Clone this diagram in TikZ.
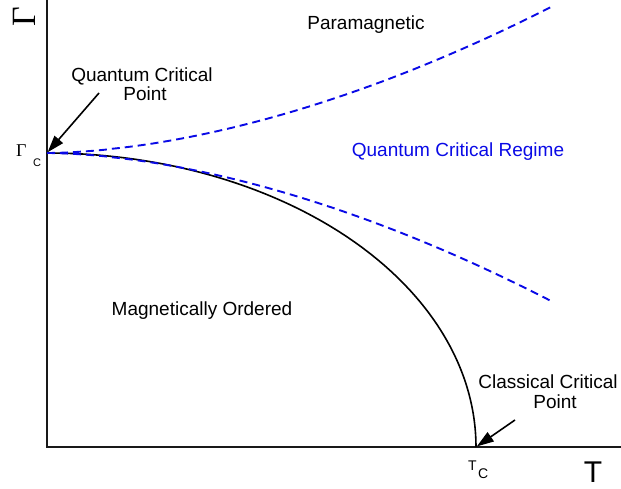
\documentclass[tikz,border=0pt]{standalone}
\usepackage{fontspec}
\setmainfont{Liberation Sans}
\newfontfamily\grserif{Liberation Serif}
\usetikzlibrary{arrows.meta}
\definecolor{qblue}{RGB}{10,10,230}
\begin{document}
\begin{tikzpicture}[x=1pt,y=-1pt,
  lbl/.style={font=\fontsize{19}{21}\selectfont, inner sep=0pt, anchor=base},
  axisline/.style={line width=1.8pt, black!90},
  phaseline/.style={line width=1.6pt, black},
  dashcurve/.style={qblue, line width=1.9pt, dash pattern=on 8pt off 5pt},
  pointer/.style={line width=1.6pt, -{Triangle[length=17pt,width=11pt]}, shorten >=1pt},
]
\useasboundingbox (0,0) rectangle (621,489);
% axes
\coordinate (ytop) at (47,0);
\coordinate (orig) at (47,447);
\coordinate (xend) at (621,447);
\draw[axisline] (ytop) -- (orig) -- (xend);
% key points
\coordinate (qcp) at (47,153);
\coordinate (ccp) at (476,447);
% phase boundary
\draw[phaseline] plot[variable=\t, domain=0:90, samples=150, smooth] ({47+429*sin(\t)}, {447-294*cos(\t)});
% crossover lines
\draw[dashcurve] (qcp) -- plot[variable=\t, domain=0.002:1, samples=80, smooth] ({47+504*\t}, {153-146*(\t)^1.75});
\draw[dashcurve] (qcp) -- plot[variable=\t, domain=0.002:1, samples=80, smooth] ({47+504*\t}, {153+148*(\t)^1.75});
% labels
\node[lbl] (para) at (366,30) {Paramagnetic};
\node[lbl] (mag) at (202,315) {Magnetically Ordered};
\node[lbl, text=qblue] (qcr) at (458,157) {Quantum Critical Regime};
\node[lbl] (qcpa) at (142,82) {Quantum Critical};
\node[lbl] (qcpb) at (145,101) {Point};
\node[lbl] (ccpa) at (548,388) {Classical Critical};
\node[lbl] (ccpb) at (555,408) {Point};
% axis labels
\node[inner sep=0pt, rotate=90, font=\grserif\fontsize{34}{34}\selectfont] (gaxis) at (24.5,16.5) {Γ};
\node[inner sep=0pt, anchor=base west, font=\grserif\fontsize{18}{18}\selectfont] (gc) at (16,157) {Γ};
\node[inner sep=0pt, anchor=base west, font=\fontsize{11}{12}\selectfont] (gcsub) at (33,167) {C};
\node[inner sep=0pt, anchor=base west, font=\fontsize{14}{15}\selectfont] (tc) at (468,470) {T};
\node[inner sep=0pt, anchor=base west, font=\fontsize{14}{15}\selectfont] (tcsub) at (478,478) {C};
\node[inner sep=0pt, anchor=base, font=\fontsize{30}{31}\selectfont] (taxis) at (593,482) {T};
% pointers
\coordinate (qtail) at (99,93);
\coordinate (ctail) at (515,420);
\draw[pointer] (qtail) -- (qcp);
\draw[pointer] (ctail) -- (ccp);
\end{tikzpicture}
\end{document}
